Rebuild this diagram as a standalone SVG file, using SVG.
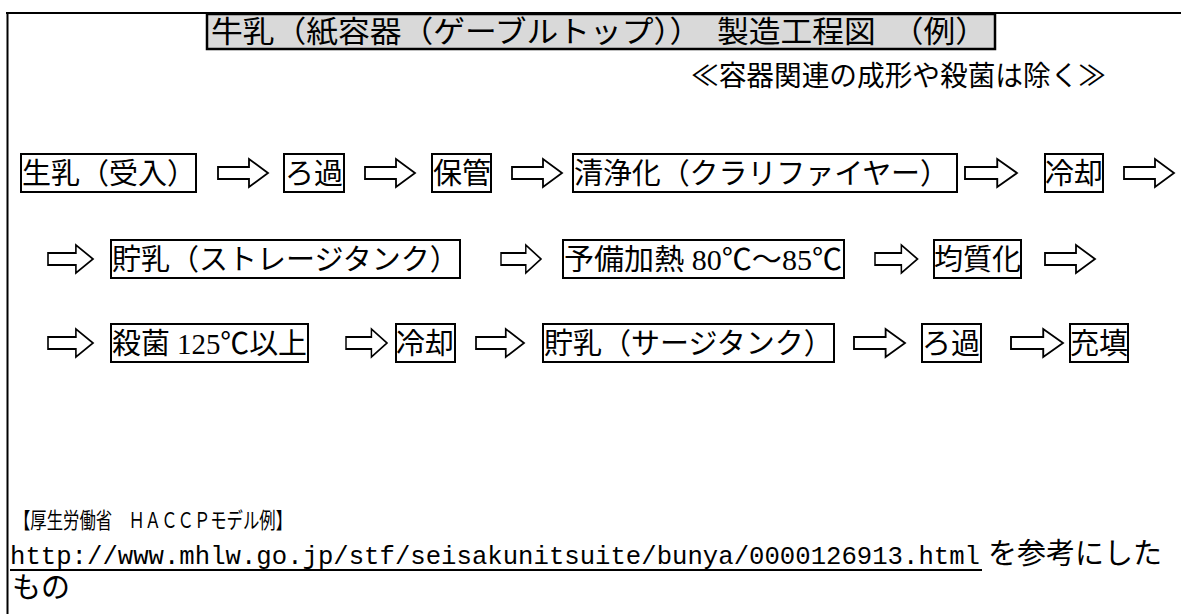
<svg xmlns="http://www.w3.org/2000/svg" width="1181" height="614" viewBox="0 0 1181 614">
<defs>
<style>
.t{font-family:"Liberation Serif","Noto Sans CJK JP",serif;fill:#000;}
.f29{font-size:29px;}
.box{fill:#fff;stroke:#000;stroke-width:2;}
.arr{fill:#fff;stroke:#000;stroke-width:1.8;stroke-linejoin:miter;}
</style>
<path id="a" d="M0,-6 H31 V-14 L50,0 L31,14 V6 H0 Z"/>
</defs>
<rect width="1181" height="614" fill="#fff"/>
<g id="frame">
<path d="M6,13 H1181 M7.5,12 V614" stroke="#000" stroke-width="2" fill="none"/>
</g>
<g id="title">
<rect x="207" y="14" width="788" height="35" fill="#d9d9d9" stroke="#000" stroke-width="2.5"/>
<text class="t" x="211" y="42" font-size="30" textLength="776" lengthAdjust="spacingAndGlyphs">牛乳（紙容器（ゲーブルトップ））　製造工程図　（例）</text>
</g>
<g id="subtitle">
<text class="t" x="691" y="86" font-size="28" textLength="415" lengthAdjust="spacingAndGlyphs">≪容器関連の成形や殺菌は除く≫</text>
</g>
<g id="n1"><rect class="box" x="21" y="154" width="175" height="38"/><text class="t f29" x="22" y="184">生乳（受入）</text></g>
<g id="n2"><rect class="box" x="284" y="154" width="60" height="38"/><text class="t f29" x="285" y="184">ろ過</text></g>
<g id="n3"><rect class="box" x="432" y="154" width="59" height="38"/><text class="t f29" x="433" y="184">保管</text></g>
<g id="n4"><rect class="box" x="573" y="154" width="384" height="38"/><text class="t f29" x="574" y="184" textLength="375" lengthAdjust="spacing">清浄化（クラリファイヤー）</text></g>
<g id="n5"><rect class="box" x="1045" y="154" width="58" height="38"/><text class="t f29" x="1045" y="184">冷却</text></g>
<g id="n6"><rect class="box" x="111" y="240" width="349" height="38"/><text class="t f29" x="112" y="270">貯乳（ストレージタンク）</text></g>
<g id="n7"><rect class="box" x="563" y="240" width="281" height="38"/><text class="t f29" x="564" y="270" textLength="278" lengthAdjust="spacingAndGlyphs">予備加熱 80℃～85℃</text></g>
<g id="n8"><rect class="box" x="934" y="240" width="87" height="38"/><text class="t f29" x="934" y="270">均質化</text></g>
<g id="n9"><rect class="box" x="111" y="324" width="197" height="38"/><text class="t f29" x="112" y="354" textLength="195" lengthAdjust="spacingAndGlyphs">殺菌 125℃以上</text></g>
<g id="n10"><rect class="box" x="396" y="324" width="59" height="38"/><text class="t f29" x="396" y="354">冷却</text></g>
<g id="n11"><rect class="box" x="543" y="324" width="291" height="38"/><text class="t f29" x="544" y="354">貯乳（サージタンク）</text></g>
<g id="n12"><rect class="box" x="922" y="324" width="59" height="38"/><text class="t f29" x="922" y="354">ろ過</text></g>
<g id="n13"><rect class="box" x="1070" y="324" width="58" height="38"/><text class="t f29" x="1070" y="354">充填</text></g>
<g id="connectors">
<use href="#a" class="arr" transform="translate(218,173)"/>
<use href="#a" class="arr" transform="translate(365,173)"/>
<use href="#a" class="arr" transform="translate(512,173)"/>
<use href="#a" class="arr" transform="translate(965,173) scale(1.04,1)"/>
<use href="#a" class="arr" transform="translate(1124,173)"/>
<use href="#a" class="arr" transform="translate(48,259) scale(0.9,1)"/>
<use href="#a" class="arr" transform="translate(501,259) scale(0.8,1)"/>
<use href="#a" class="arr" transform="translate(875,259) scale(0.85,1)"/>
<use href="#a" class="arr" transform="translate(1045,259)"/>
<use href="#a" class="arr" transform="translate(48,343) scale(0.9,1)"/>
<use href="#a" class="arr" transform="translate(346,343) scale(0.82,1)"/>
<use href="#a" class="arr" transform="translate(476,343) scale(0.96,1)"/>
<use href="#a" class="arr" transform="translate(854,343) scale(1.02,1)"/>
<use href="#a" class="arr" transform="translate(1011,343) scale(1.04,1)"/>
</g>
<g id="footer">
<text class="t" x="14" y="528" font-size="22" textLength="278" lengthAdjust="spacingAndGlyphs">【厚生労働省　ＨＡＣＣＰモデル例】</text>
<text x="10" y="564" font-family="Liberation Mono, monospace" font-size="26" textLength="970" lengthAdjust="spacingAndGlyphs">http://www.mhlw.go.jp/stf/seisakunitsuite/bunya/0000126913.html</text>
<line x1="10" y1="570" x2="982" y2="570" stroke="#000" stroke-width="2"/>
<text class="t" x="988" y="564" font-size="29" textLength="174" lengthAdjust="spacingAndGlyphs">を参考にした</text>
<text class="t" x="12" y="598" font-size="29">もの</text>
</g>
</svg>
